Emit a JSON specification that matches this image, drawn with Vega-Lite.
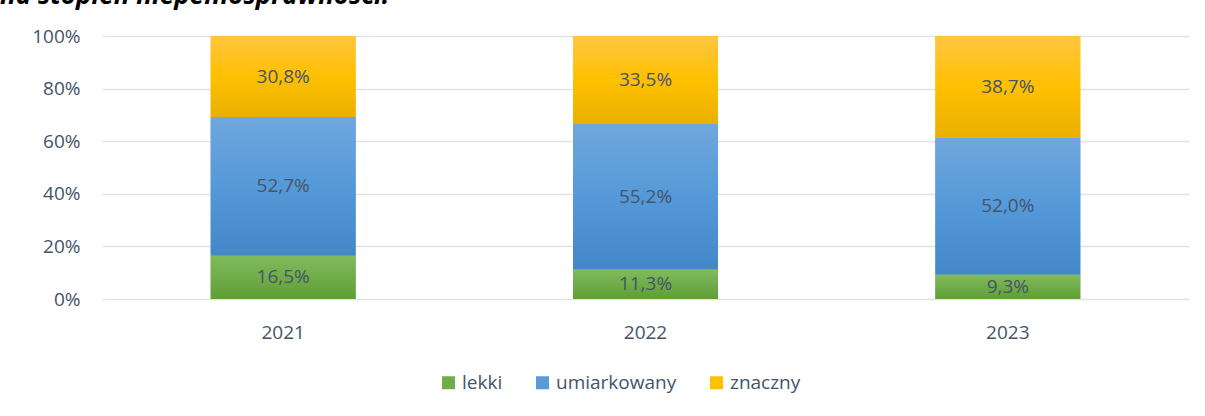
{
  "$schema": "https://vega.github.io/schema/vega-lite/v6.json",
  "width": 1087,
  "height": 263,
  "autosize": {"type": "none"},
  "padding": {"left": 102, "top": 36, "right": 16, "bottom": 117},
  "config": {
    "locale": {"number": {"decimal": ",", "thousands": " ", "grouping": [3], "currency": ["", " zł"]}},
    "view": {"stroke": null},
    "font": "Open Sans"
  },
  "title": {
    "text": "na stopień niepełnosprawności.",
    "anchor": "start",
    "frame": "group",
    "dx": -102,
    "offset": 0,
    "dy": 3,
    "baseline": "alphabetic",
    "fontStyle": "italic",
    "fontWeight": "bold",
    "fontSize": 26,
    "color": "#000000"
  },
  "data": {
    "values": [
      {"year": "2021", "cat": "lekki", "v": 0.165, "o": 1},
      {"year": "2021", "cat": "umiarkowany", "v": 0.527, "o": 2},
      {"year": "2021", "cat": "znaczny", "v": 0.308, "o": 3},
      {"year": "2022", "cat": "lekki", "v": 0.113, "o": 1},
      {"year": "2022", "cat": "umiarkowany", "v": 0.552, "o": 2},
      {"year": "2022", "cat": "znaczny", "v": 0.335, "o": 3},
      {"year": "2023", "cat": "lekki", "v": 0.093, "o": 1},
      {"year": "2023", "cat": "umiarkowany", "v": 0.520, "o": 2},
      {"year": "2023", "cat": "znaczny", "v": 0.387, "o": 3}
    ]
  },
  "transform": [
    {"stack": "v", "groupby": ["year"], "sort": [{"field": "o", "order": "ascending"}], "as": ["y0", "y1"]},
    {"calculate": "(datum.y0 + datum.y1) / 2", "as": "ym"}
  ],
  "encoding": {
    "x": {
      "field": "year",
      "type": "nominal",
      "scale": {"paddingInner": 0.6, "paddingOuter": 0.3},
      "axis": {
        "title": null,
        "labelAngle": 0,
        "domain": false,
        "ticks": false,
        "labelPadding": 24,
        "labelFontSize": 19,
        "labelColor": "#44546A",
        "labelFont": "Open Sans"
      }
    }
  },
  "layer": [
    {
      "mark": {"type": "bar"},
      "encoding": {
        "y": {
          "field": "y0",
          "type": "quantitative",
          "scale": {"domain": [0, 1], "nice": false},
          "axis": {
            "title": null,
            "values": [0, 0.2, 0.4, 0.6, 0.8, 1],
            "format": ".0%",
            "domain": false,
            "ticks": false,
            "labelPadding": 22,
            "labelFontSize": 19,
            "labelColor": "#44546A",
            "gridColor": "#DFE3EA",
            "gridWidth": 1.5
          }
        },
        "y2": {"field": "y1"},
        "color": {
          "field": "cat",
          "type": "nominal",
          "scale": {"domain": ["lekki", "umiarkowany", "znaczny"], "range": ["#70AD47", "#5B9BD5", "#FFC000"]},
          "legend": {
            "title": null,
            "orient": "none",
            "direction": "horizontal",
            "legendX": 337,
            "legendY": 337,
            "symbolType": "square",
            "symbolSize": 169,
            "symbolStrokeWidth": 0,
            "labelFontSize": 19,
            "labelColor": "#44546A",
            "labelOffset": 4,
            "columnPadding": 30
          }
        }
      }
    },
    {
      "mark": {"type": "bar"},
      "encoding": {
        "y": {"field": "y0", "type": "quantitative"},
        "y2": {"field": "y1"},
        "fill": {
          "condition": [
            {"test": "datum.cat === 'lekki'", "value": {"gradient": "linear", "x1": 0, "y1": 0, "x2": 0, "y2": 1, "stops": [{"offset": 0, "color": "#81BB5E"}, {"offset": 1, "color": "#5F9E35"}]}},
            {"test": "datum.cat === 'umiarkowany'", "value": {"gradient": "linear", "x1": 0, "y1": 0, "x2": 0, "y2": 1, "stops": [{"offset": 0, "color": "#6FA7DD"}, {"offset": 0.5, "color": "#5599D8"}, {"offset": 1, "color": "#4387C8"}]}}
          ],
          "value": {"gradient": "linear", "x1": 0, "y1": 0, "x2": 0, "y2": 1, "stops": [{"offset": 0, "color": "#FFC640"}, {"offset": 0.5, "color": "#FFC000"}, {"offset": 1, "color": "#E8B000"}]}
        }
      }
    },
    {
      "mark": {"type": "text", "fontSize": 19, "color": "#44546A", "baseline": "middle", "align": "center"},
      "encoding": {
        "y": {"field": "ym", "type": "quantitative"},
        "text": {"field": "v", "type": "quantitative", "format": ".1%"}
      }
    }
  ]
}
